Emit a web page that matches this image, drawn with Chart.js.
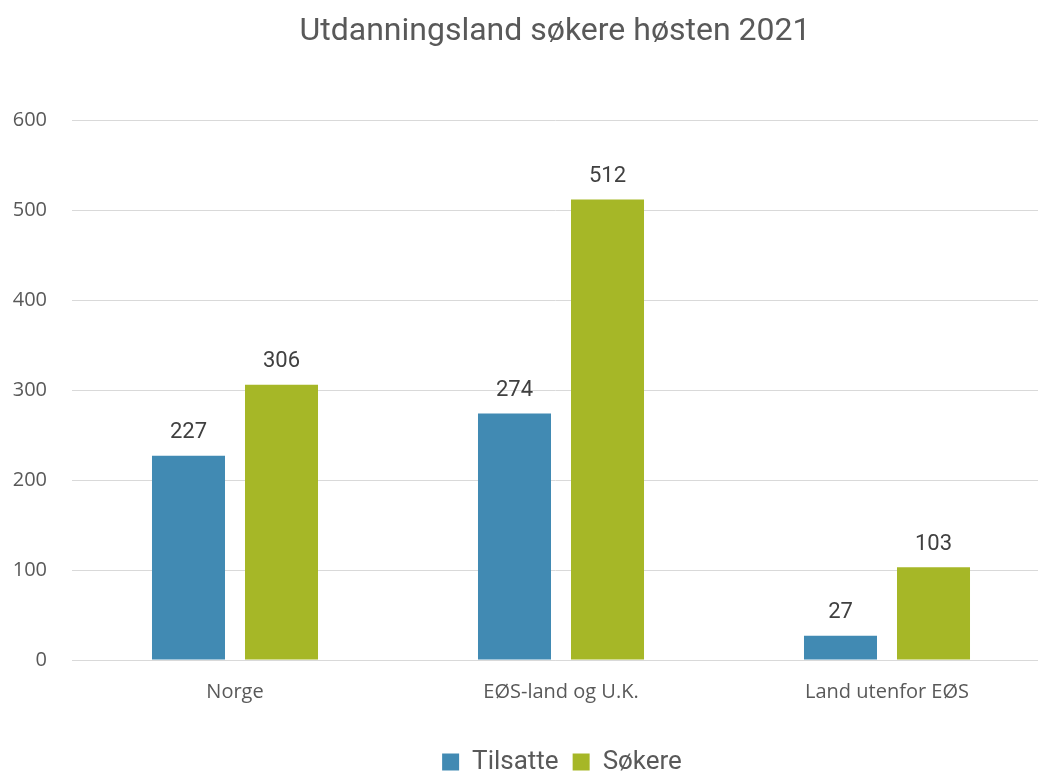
<!DOCTYPE html>
<html>
<head>
<meta charset="utf-8">
<script src="https://cdn.jsdelivr.net/npm/chart.js@4"></script>
<style>
html,body{margin:0;padding:0;background:#fff;overflow:hidden;}
#wrap{width:1038px;height:771px;}
</style>
</head>
<body>
<div id="wrap"><canvas id="c" width="1038" height="771"></canvas></div>
<script>
const categories = ["Norge", "EØS-land og U.K.", "Land utenfor EØS"];
const tilsatte = [227, 274, 27];
const sokere = [306, 512, 103];
const seriesNames = ["Tilsatte", "Søkere"];
const yTicks = [0, 100, 200, 300, 400, 500, 600];
const titleText = "Utdanningsland søkere høsten 2021";

const labelPlugin = {
  id: 'valueLabels',
  afterDatasetsDraw(chart) {
    const ctx = chart.ctx;
    ctx.save();
    ctx.font = '22px Roboto';
    ctx.fillStyle = '#404040';
    ctx.textAlign = 'center';
    ctx.textBaseline = 'bottom';
    chart.data.datasets.forEach((ds, i) => {
      const meta = chart.getDatasetMeta(i);
      meta.data.forEach((el, j) => {
        ctx.fillText(String(ds.data[j]), el.x, el.y - 12);
      });
    });
    ctx.restore();
  }
};

// The plot area of the original runs past the right edge of the picture
const widenPlugin = {
  id: 'widenPlot',
  afterLayout(chart) {
    const extra = 12;
    const x = chart.scales.x;
    x.right += extra;
    x.width += extra;
    x.configure();
    chart.chartArea.right += extra;
    chart.chartArea.width = chart.chartArea.right - chart.chartArea.left;
    if (chart.legend) {
      chart.legend.left += 7;
      chart.legend.right += 7;
    }
  }
};

new Chart(document.getElementById('c'), {
  type: 'bar',
  data: {
    labels: categories,
    datasets: [
      { label: seriesNames[0], data: tilsatte, backgroundColor: '#418AB3' },
      { label: seriesNames[1], data: sokere, backgroundColor: '#A6B727' }
    ]
  },
  options: {
    responsive: false,
    animation: false,
    devicePixelRatio: 1,
    layout: { padding: { left: 0, right: 0, top: 0, bottom: -14 } },
    categoryPercentage: 0.5706,
    barPercentage: 0.785,
    plugins: {
      title: {
        display: true,
        fullSize: false,
        text: titleText,
        color: '#595959',
        font: { family: 'Roboto', size: 32, weight: 'normal' },
        padding: { top: 13, bottom: 69 }
      },
      legend: {
        position: 'bottom',
        fullSize: false,
        labels: {
          color: '#595959',
          font: { family: 'Roboto', size: 26 },
          boxWidth: 17,
          boxHeight: 17,
          padding: 14
        }
      },
      tooltip: { enabled: false }
    },
    scales: {
      x: {
        grid: { display: false },
        border: { color: '#d9d9d9', width: 1 },
        ticks: { color: '#595959', font: { family: 'Open Sans', size: 20 }, padding: 12 },
        afterFit(scale) { scale.height += 19; }
      },
      y: {
        min: yTicks[0], max: yTicks[yTicks.length - 1],
        afterBuildTicks(scale) { scale.ticks = yTicks.map(v => ({ value: v })); },
        ticks: { color: '#595959', font: { family: 'Open Sans', size: 20 }, padding: 25 },
        grid: { color: '#d9d9d9', drawTicks: false },
        border: { display: false },
        afterFit(scale) { scale.width = 72; }
      }
    }
  },
  plugins: [labelPlugin, widenPlugin]
});
</script>
</body>
</html>
